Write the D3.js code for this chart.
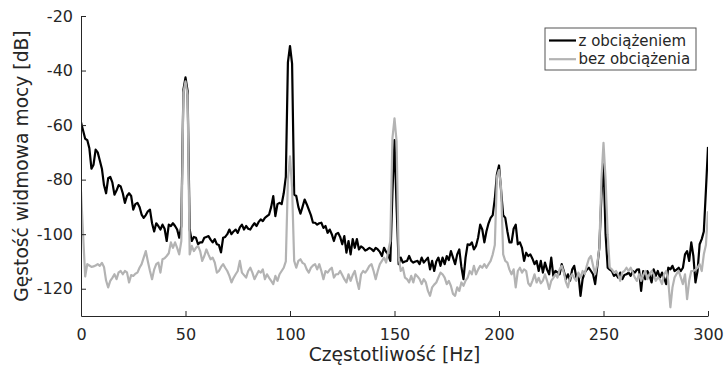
<!DOCTYPE html>
<html>
<head>
<meta charset="utf-8">
<script src="https://cdn.jsdelivr.net/npm/d3@7"></script>
<style>
  html, body { margin: 0; padding: 0; background: #fff; }
  svg { display: block; font-family: "DejaVu Sans", sans-serif; }
</style>
</head>
<body>
<div id="chart"></div>
<script>
// Widmo gęstości mocy, rozdzielczość 1 Hz (0..300 Hz)
const freqStep = 1;

const psdLoaded = [
  -59, -62, -65, -65.5, -68.5, -76, -74.5, -69, -70, -73,
  -76, -82, -85, -79.5, -79, -81, -85.5, -84, -82, -82.5,
  -85, -88.5, -86, -85, -86, -91, -89, -88.5, -90, -92.8,
  -94, -93, -91.6, -91, -96, -99, -96, -97, -98.3, -96.5,
  -98, -102.5, -96.5, -97, -96, -97, -98.3, -101.3, -97, -47,
  -42.5, -47.5, -98.3, -102.5, -101, -101.3, -103.7, -103, -103, -101.3,
  -101, -100.7, -102, -103, -101.8, -103.7, -104, -106.7, -101.3, -101,
  -100, -98.3, -100, -99, -98.3, -99.5, -97.5, -96.5, -98.3, -97,
  -98, -98.3, -97, -96, -97, -95.5, -94.6, -95.2, -94, -93.4,
  -92.8, -90, -86, -93.4, -89, -88.5, -89, -85, -79, -37,
  -31, -37.5, -85.5, -86, -90, -92.5, -90, -87.3, -89, -91,
  -93, -95.8, -95.8, -96.5, -96, -95.8, -97.7, -97, -99.5, -98.3,
  -100, -102.5, -100, -99.5, -101, -103.7, -100.7, -106.8, -102.5, -107.4,
  -101.8, -105, -101.8, -105.6, -104.5, -105, -106, -105.6, -105, -105.5,
  -106.2, -105, -105.6, -106.5, -108, -105, -106.5, -107.5, -109.8, -85,
  -65.5, -90, -111, -108.6, -110.4, -110, -109.8, -108, -109.8, -110.4,
  -110, -109.8, -111, -108.6, -110.4, -109.5, -108.6, -112.9, -109.8, -113.5,
  -110, -108.6, -111.6, -108.6, -111, -108, -109.5, -106.2, -108.6, -111,
  -107.4, -105.6, -112, -116.5, -108.6, -103.7, -104, -103, -105.6, -104.3,
  -101.3, -96.5, -98.3, -103, -98.9, -96, -94, -93, -87, -78,
  -74.8, -84, -93, -94, -98.9, -103, -103, -98, -96.5, -103.7,
  -103, -105, -109.8, -106.8, -108, -107.4, -109, -111, -109.8, -113.5,
  -109.8, -114.1, -110.4, -113, -114.7, -108.6, -115.3, -113.5, -114, -114.7,
  -111, -113.5, -116.5, -114.7, -117.1, -113, -111.6, -115.9, -114.7, -122.6,
  -116.5, -114.1, -113, -112.3, -113.5, -114.7, -118.3, -112, -105, -86,
  -73.4, -100, -112.3, -113, -113.5, -115.3, -114.7, -115.9, -114.1, -116.5,
  -115, -114.7, -114.1, -115.3, -113.5, -114.1, -113, -112.9, -120.8, -113.5,
  -116.5, -113.5, -115, -117.7, -112.9, -115.3, -113.5, -115.9, -114.1, -116,
  -118.3, -112.3, -112.9, -111.6, -113.5, -113, -112.3, -113.5, -112.3, -107.4,
  -106.2, -109.8, -103, -108, -117.7, -113.5, -103.7, -101.8, -99, -84,
  -68
];

const psdNoLoad = [
  -84.4, -100, -115.5, -111, -111.5, -112, -111.8, -111.5, -111, -111.6,
  -110.5, -112, -117, -119.5, -117.1, -116, -114.7, -116.5, -114, -113.5,
  -114.7, -113.5, -114, -117.7, -115, -115.3, -114.5, -114.1, -112.3, -111,
  -108.6, -106.2, -110, -113.5, -116.5, -113, -111, -110.4, -114.1, -109.2,
  -108.8, -108, -107, -103, -105, -103, -105, -107.4, -102.5, -48,
  -44, -49, -107.4, -104.3, -106.2, -105, -104.3, -106.2, -109.8, -108,
  -105.6, -107.5, -109.2, -108.6, -110.4, -114.1, -113.5, -112, -111, -112.3,
  -113.5, -115.3, -117.7, -116, -114.7, -113.5, -109.8, -114.1, -115, -115.9,
  -113.5, -112.3, -114.1, -116.5, -115, -113.5, -114.1, -112.9, -116.5, -114.7,
  -116, -117.1, -118.3, -115.3, -117.1, -114.7, -113.5, -112.3, -110, -80,
  -71.5, -83, -109.8, -112.3, -109.8, -109.2, -110.5, -111, -112.9, -114.1,
  -112.3, -111.5, -111, -112.9, -111, -113.5, -116.5, -113.5, -114.1, -113,
  -112.3, -115.9, -114.7, -114.7, -113.5, -115, -116.5, -117.7, -114.7, -117.1,
  -115, -113.5, -117.1, -120.1, -114.7, -113.5, -114.1, -113, -111.6, -111,
  -113.5, -116.5, -113.5, -111, -109.8, -108.6, -110.4, -106.2, -102.5, -65,
  -57.5, -66, -108.6, -113.5, -112.3, -115.9, -116.5, -117.7, -115.3, -117.7,
  -114.7, -115.5, -116.5, -118.3, -116.5, -117.7, -120.8, -122.6, -119.5, -118.5,
  -117.7, -115.9, -114.1, -114.7, -115.9, -118.3, -117.1, -119, -121.9, -122.6,
  -119.5, -120.8, -117.7, -118.9, -117, -115.9, -113.5, -114.7, -111.6, -114.7,
  -113, -111.6, -112.3, -111, -112.3, -111, -109.8, -107.4, -104, -79,
  -76.5, -83, -107.4, -109.8, -110.4, -113, -114.7, -112.9, -119.5, -113.5,
  -112.3, -114.1, -112.9, -113.5, -118, -119, -117.1, -114.7, -117.7, -116,
  -118, -117, -114.7, -117.1, -120.1, -117.1, -116, -114.7, -115.9, -112.9,
  -111.6, -114, -117.5, -119.5, -115.9, -114.7, -116, -117.1, -114.1, -115.9,
  -113.5, -114.7, -111.6, -109, -108, -111.5, -114.7, -111, -105, -80,
  -66.5, -80, -100, -112.3, -112.9, -114.1, -113.5, -114.7, -117.1, -114,
  -113.5, -112.3, -113.5, -112.3, -114, -115.9, -117.1, -114.7, -117.1, -115,
  -113.5, -116.5, -114.7, -113.5, -114.7, -117.1, -115.9, -116.5, -118.3, -114.7,
  -113.5, -117.1, -126.8, -119.5, -115.9, -114.5, -113.5, -115.9, -118.3, -114.7,
  -123.8, -117.1, -113.5, -113.5, -113, -112.3, -111, -113.5, -107.4, -104,
  -91.6
];

const xTicks = [0, 50, 100, 150, 200, 250, 300];
const yTicks = [-120, -100, -80, -60, -40, -20];
const seriesNames = ['z obciążeniem', 'bez obciążenia'];
const seriesColors = ['#000000', '#b3b3b3'];

const W = 725, H = 369;
const margin = { top: 16, right: 17, bottom: 53, left: 81 };
const axisColor = '#262626';

const svg = d3.select('#chart').append('svg')
  .attr('width', W).attr('height', H);

const x = d3.scaleLinear().domain([0, 300]).range([margin.left, W - margin.right]);
const y = d3.scaleLinear().domain([-130, -20]).range([H - margin.bottom, margin.top]);

svg.append('defs').append('clipPath').attr('id', 'plot-clip')
  .append('rect')
  .attr('x', margin.left).attr('y', margin.top)
  .attr('width', W - margin.left - margin.right)
  .attr('height', H - margin.bottom - margin.top);

// Linie widma (druga seria rysowana na wierzchu)
const line = d3.line()
  .x((d, i) => x(i * freqStep))
  .y(d => y(d));

const plot = svg.append('g').attr('clip-path', 'url(#plot-clip)');
[psdLoaded, psdNoLoad].forEach((s, k) => {
  plot.append('path')
    .datum(s)
    .attr('fill', 'none')
    .attr('stroke', seriesColors[k])
    .attr('stroke-width', 2.2)
    .attr('stroke-linejoin', 'round')
    .attr('d', line);
});

// Osie: ticki do środka, bez ramki; zwykły łącznik zamiast znaku minus
const fmt = d => String(d);
const xAxis = svg.append('g')
  .attr('transform', `translate(0,${H - margin.bottom})`)
  .call(d3.axisBottom(x).tickValues(xTicks).tickFormat(fmt).tickSizeInner(-5).tickSizeOuter(0).tickPadding(10));

const yAxis = svg.append('g')
  .attr('transform', `translate(${margin.left},0)`)
  .call(d3.axisLeft(y).tickValues(yTicks).tickFormat(fmt).tickSizeInner(-5).tickSizeOuter(0).tickPadding(8));

[xAxis, yAxis].forEach(a => {
  a.select('.domain').attr('stroke', axisColor).attr('stroke-width', 1);
  a.selectAll('.tick line').attr('stroke', axisColor);
  a.selectAll('.tick text')
    .attr('fill', axisColor)
    .attr('font-size', '16px')
    .attr('font-family', '"DejaVu Sans", sans-serif');
});
xAxis.selectAll('.tick text').attr('y', 13);
yAxis.selectAll('.tick text').attr('x', -8);

// Etykiety osi
svg.append('text')
  .attr('x', (margin.left + W - margin.right) / 2)
  .attr('y', 361)
  .attr('text-anchor', 'middle')
  .attr('fill', axisColor)
  .attr('font-size', '18.7px')
  .text('Częstotliwość [Hz]');

svg.append('text')
  .attr('transform', `translate(28,${(margin.top + H - margin.bottom) / 2}) rotate(-90)`)
  .attr('text-anchor', 'middle')
  .attr('fill', axisColor)
  .attr('font-size', '18.7px')
  .text('Gęstość widmowa mocy [dB]');

// Legenda
const legend = svg.append('g').attr('transform', 'translate(545,28)');
legend.append('rect')
  .attr('width', 151).attr('height', 42)
  .attr('fill', '#fff')
  .attr('stroke', '#555').attr('stroke-width', 1);

seriesNames.forEach((name, k) => {
  const yy = 12.5 + k * 18.7;
  legend.append('line')
    .attr('x1', 4).attr('x2', 31)
    .attr('y1', yy).attr('y2', yy)
    .attr('stroke', seriesColors[k])
    .attr('stroke-width', 2.2);
  legend.append('text')
    .attr('x', 33.5).attr('y', yy + 5)
    .attr('fill', axisColor)
    .attr('font-size', '15px')
    .text(name);
});
</script>
</body>
</html>
